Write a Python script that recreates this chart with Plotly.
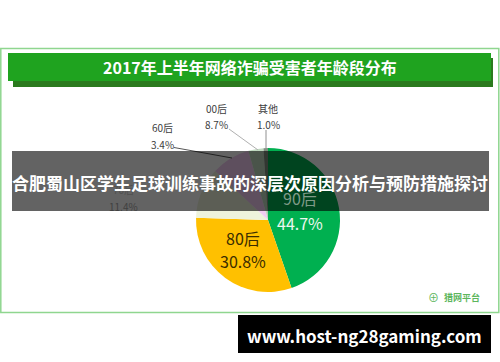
import plotly.graph_objects as go

W, H = 500, 362

# ---- data ----
labels = ["90后", "80后", "70后", "00后", "60后", "其他"]
values = [44.7, 30.8, 11.4, 8.7, 3.4, 1.0]
colors = ["#00B050", "#FFC000", "#EEF3DC", "#F2CCF2", "#BFD9BF", "#7F8F7F"]

title_text = "2017年上半年网络诈骗受害者年龄段分布"
band_text = "合肥蜀山区学生足球训练事故的深层次原因分析与预防措施探讨"
url_text = "www.host-ng28gaming.com"
logo_text = "猎网平台"

FONT = "Noto Sans CJK SC"


def px(x):
    return x / W


def py(y):
    return 1 - y / H


# pie geometry (pixels)
cx, cy, r = 268, 220, 72

fig = go.Figure()
fig.add_trace(go.Pie(
    labels=labels, values=values, sort=False, direction="clockwise", rotation=0,
    marker=dict(colors=colors, line=dict(width=0)),
    textinfo="none", hoverinfo="label+percent", showlegend=False,
    domain=dict(x=[px(cx - r), px(cx + r)], y=[py(cy + r), py(cy - r)]),
))

shapes = []
# outer frame
shapes.append(dict(type="rect", xref="paper", yref="paper", x0=px(0.8), x1=px(498.8), y0=py(312.5), y1=py(48.5),
                   line=dict(color="#8FD68F", width=1.5), fillcolor="rgba(0,0,0,0)", layer="below"))
# title bar shadow + bar
shapes.append(dict(type="rect", xref="paper", yref="paper", x0=px(13), x1=px(493), y0=py(87), y1=py(58),
                   line=dict(width=0), fillcolor="#2B7A1E", layer="below"))
shapes.append(dict(type="rect", xref="paper", yref="paper", x0=px(8), x1=px(491), y0=py(81), y1=py(53),
                   line=dict(width=0), fillcolor="#1FA31F", layer="below"))
# leader lines
shapes.append(dict(type="line", xref="paper", yref="paper", x0=px(174), y0=py(147.5), x1=px(232), y1=py(158),
                   line=dict(color="#555555", width=1)))
shapes.append(dict(type="line", xref="paper", yref="paper", x0=px(229), y0=py(129), x1=px(258), y1=py(150),
                   line=dict(color="#B0B0B0", width=1)))
shapes.append(dict(type="line", xref="paper", yref="paper", x0=px(266), y0=py(130), x1=px(266), y1=py(150),
                   line=dict(color="#909090", width=1)))
# overlay band
shapes.append(dict(type="rect", xref="paper", yref="paper", x0=px(12), x1=px(489), y0=py(211), y1=py(151),
                   line=dict(width=0), fillcolor="rgba(0,0,0,0.61)", layer="above"))
# url box
shapes.append(dict(type="rect", xref="paper", yref="paper", x0=px(238), x1=px(491), y0=py(353), y1=py(315),
                   line=dict(width=0), fillcolor="#000000", layer="above"))

ann = []


def add_text(text, x, y, size, color, bold=False):
    ann.append(dict(text=("<b>%s</b>" % text) if bold else text, x=px(x), y=py(y), xref="paper", yref="paper",
                    xanchor="center", yanchor="middle", showarrow=False,
                    font=dict(family=FONT, size=size, color=color)))


add_text(title_text, 250, 67, 16, "#FFFFFF", bold=True)
# outside labels
add_text(labels[4], 162, 127, 10, "#404040")
add_text("%.1f%%" % values[4], 162, 144, 10, "#404040")
add_text(labels[3], 216, 108, 10, "#404040")
add_text("%.1f%%" % values[3], 216, 125, 10, "#404040")
add_text(labels[5], 268, 108, 10, "#404040")
add_text("%.1f%%" % values[5], 268, 125, 10, "#404040")
add_text(labels[2], 123, 189, 10, "#505050")
add_text("%.1f%%" % values[2], 123, 206, 10, "#404040")
# inside labels
add_text(labels[0], 300, 198, 16, "#7F9A88")
add_text("%.1f%%" % values[0], 300, 223, 16, "#EAF7EE")
add_text(labels[1], 243, 238, 16, "#3A2C00")
add_text("%.1f%%" % values[1], 243, 261, 16, "#3A2C00")
# band text
add_text(band_text, 250, 182, 17, "#FFFFFF", bold=True)
# url text
add_text(url_text, 364, 335, 17, "#FFFFFF", bold=True)
# logo
add_text("⊕", 433, 297, 11, "#5DB65D")
add_text(logo_text, 462, 297, 9, "#5DB65D", bold=True)

fig.update_layout(
    width=W, height=H, margin=dict(l=0, r=0, t=0, b=0),
    paper_bgcolor="#FFFFFF", plot_bgcolor="#FFFFFF",
    shapes=shapes, annotations=ann,
    font=dict(family=FONT),
)

fig.write_html("out.html", config={"displayModeBar": False},
               post_script="document.body.style.margin='0';")
